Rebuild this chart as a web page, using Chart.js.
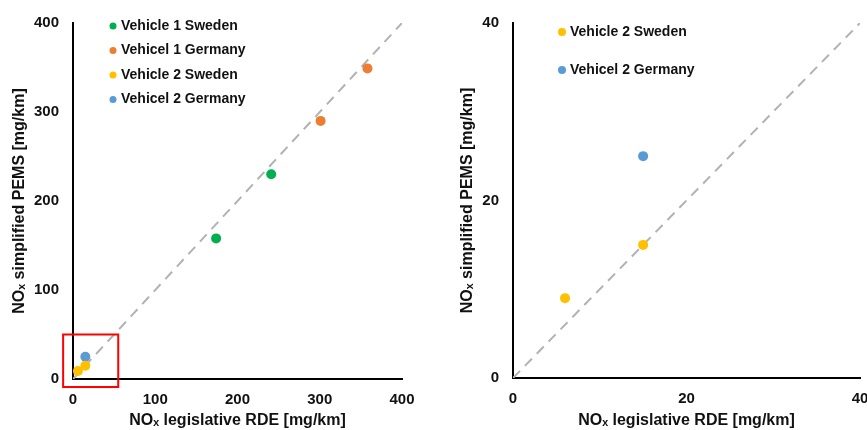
<!DOCTYPE html>
<html>
<head>
<meta charset="utf-8">
<script src="https://cdn.jsdelivr.net/npm/chart.js@4.4.1/dist/chart.umd.min.js"></script>
<style>
    html, body { margin: 0; padding: 0; background: #fff; overflow: hidden; }
    #wrap { position: relative; width: 867px; height: 430px; overflow: hidden; }
    #leftChart { position: absolute; left: 0; top: 0; }
    #rightChart { position: absolute; left: 440px; top: 0; }
</style>
</head>
<body>
<div id="wrap">
    <canvas id="leftChart" width="430" height="430"></canvas>
    <canvas id="rightChart" width="445" height="430"></canvas>
</div>
<script>
// Values [mg/km]
const v1SwedenX = [174, 241];
const v1SwedenY = [158, 230];
const v1GermanyX = [301, 358];
const v1GermanyY = [290, 349];
const v2SwedenX = [6, 15];
const v2SwedenY = [9, 15];
const v2GermanyX = [15];
const v2GermanyY = [25];

// 1:1 reference lines
const identityLeft = [0, 400];
const identityRight = [0, 40];

// Tick labels
const ticksLeft = [0, 100, 200, 300, 400];
const ticksRight = [0, 20, 40];

// Zoomed area marked on the left chart (data units)
const zoomArea = { xMin: -12, xMax: 55, yMin: -9, yMax: 50 };

const FONT = '"Liberation Sans", Arial, sans-serif';
const xTitle = 'NO\u2093 legislative RDE [mg/km]';
const yTitle = 'NO\u2093 simplified PEMS [mg/km]';

function points(xs, ys) {
    return xs.map((x, i) => ({ x: x, y: ys[i] }));
}

function pointSet(label, xs, ys, color) {
    return {
        label: label,
        data: points(xs, ys),
        backgroundColor: color,
        borderColor: color,
        borderWidth: 0,
        pointRadius: 5,
        pointHoverRadius: 5,
        showLine: false
    };
}

function identitySet(vals) {
    return {
        label: '1:1',
        data: points(vals, vals),
        showLine: true,
        borderColor: '#b2b2b2',
        borderWidth: 2,
        borderDash: [10, 7],
        pointRadius: 0,
        fill: false
    };
}

// legend drawn inside the plot area, as in the original figure
const insideLegend = {
    id: 'insideLegend',
    afterDatasetsDraw(chart, args, opts) {
        const ctx = chart.ctx;
        ctx.save();
        ctx.font = 'bold 14px ' + FONT;
        ctx.textBaseline = 'middle';
        let y = opts.y;
        chart.data.datasets.forEach(ds => {
            if (ds.showLine) return;
            ctx.fillStyle = ds.backgroundColor;
            ctx.beginPath();
            ctx.arc(opts.x, y, opts.r, 0, Math.PI * 2);
            ctx.fill();
            ctx.fillStyle = '#111';
            ctx.fillText(ds.label, opts.x + 8, y);
            y += opts.spacing;
        });
        ctx.restore();
    }
};

const zoomBox = {
    id: 'zoomBox',
    afterDatasetsDraw(chart) {
        const xs = chart.scales.x, ys = chart.scales.y;
        const l = xs.getPixelForValue(zoomArea.xMin);
        const r = xs.getPixelForValue(zoomArea.xMax);
        const t = ys.getPixelForValue(zoomArea.yMax);
        const b = ys.getPixelForValue(zoomArea.yMin);
        const ctx = chart.ctx;
        ctx.save();
        ctx.strokeStyle = '#ff0000';
        ctx.lineWidth = 2;
        ctx.strokeRect(l, t, r - l, b - t);
        ctx.restore();
    }
};

function axis(max, tickVals, title, horizontal, titlePad, size) {
    return {
        type: 'linear',
        min: 0,
        max: max,
        afterBuildTicks: s => { s.ticks = tickVals.map(v => ({ value: v })); },
        afterFit: s => { if (horizontal) s.height = size; else s.width = size; },
        grid: { display: false, drawTicks: false },
        border: { display: true, color: '#000', width: 2 },
        ticks: {
            color: '#111',
            padding: horizontal ? 12 : 14,
            font: { family: FONT, size: 15, weight: 'bold' }
        },
        title: {
            display: true,
            text: title,
            color: '#111',
            padding: horizontal ? { top: 0, bottom: titlePad } : { top: titlePad, bottom: 0 },
            font: { family: FONT, size: 16, weight: 'bold' }
        }
    };
}

function makeChart(id, datasets, opts) {
    return new Chart(document.getElementById(id), {
        type: 'scatter',
        data: { datasets: datasets },
        options: {
            responsive: false,
            animation: false,
            events: [],
            layout: { padding: { top: 21, right: opts.padRight, bottom: 0, left: 0 } },
            plugins: {
                legend: { display: false },
                tooltip: { enabled: false },
                insideLegend: opts.legend
            },
            scales: {
                x: axis(opts.max, opts.ticks, xTitle, true, 0, opts.xHeight),
                y: axis(opts.max, opts.ticks, yTitle, false, opts.yTitlePad, 73)
            }
        },
        plugins: opts.plugins
    });
}

makeChart('leftChart', [
    pointSet('Vehicle 1 Sweden', v1SwedenX, v1SwedenY, '#00b050'),
    pointSet('Vehicel 1 Germany', v1GermanyX, v1GermanyY, '#ed7d31'),
    pointSet('Vehicle 2 Sweden', v2SwedenX, v2SwedenY, '#ffc000'),
    pointSet('Vehicel 2 Germany', v2GermanyX, v2GermanyY, '#5b9bd5'),
    identitySet(identityLeft)
], {
    max: 400, ticks: ticksLeft, padRight: 28, xHeight: 51, yTitlePad: 10,
    legend: { x: 113, y: 26, r: 3.5, spacing: 24.5 },
    plugins: [insideLegend, zoomBox]
});

makeChart('rightChart', [
    pointSet('Vehicle 2 Sweden', v2SwedenX, v2SwedenY, '#ffc000'),
    pointSet('Vehicel 2 Germany', v2GermanyX, v2GermanyY, '#5b9bd5'),
    identitySet(identityRight)
], {
    max: 40, ticks: ticksRight, padRight: 25, xHeight: 52, yTitlePad: 18,
    legend: { x: 122, y: 32, r: 4, spacing: 38 },
    plugins: [insideLegend]
});
</script>
</body>
</html>
